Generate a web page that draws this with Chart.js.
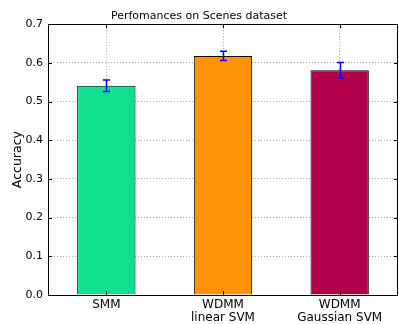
<!DOCTYPE html>
<html>
<head>
<meta charset="utf-8">
<script src="https://cdn.jsdelivr.net/npm/chart.js@4/dist/chart.umd.min.js"></script>
<style>
  html, body { margin: 0; padding: 0; background: #fff; }
  #c { display: block; }
</style>
</head>
<body>
<canvas id="c" width="399" height="324"></canvas>
<script>
// Classifier accuracy on the Scenes dataset
const categories = [["SMM"], ["WDMM", "linear SVM"], ["WDMM", "Gaussian SVM"]];
const accuracy = [0.541, 0.618, 0.581];
const stdErr = [0.015, 0.012, 0.020];
const barColors = ["#13e08f", "#ff9308", "#b0004a"];
const yTicks = [0.0, 0.1, 0.2, 0.3, 0.4, 0.5, 0.6, 0.7];

const FONT = "'DejaVu Sans', sans-serif";

// Frame, inward ticks and error bars in the matplotlib "classic" look
const decorations = {
  id: 'decorations',
  afterDatasetsDraw(chart) {
    const { ctx, chartArea: a, scales } = chart;
    const x = scales.x, y = scales.y;
    ctx.save();
    // error bars
    const meta = chart.getDatasetMeta(0);
    ctx.strokeStyle = '#0000ff';
    ctx.lineWidth = 1.5;
    meta.data.forEach((bar, i) => {
      const cx = Math.round(bar.x) + 0.5;
      const yHi = y.getPixelForValue(accuracy[i] + stdErr[i]);
      const yLo = y.getPixelForValue(accuracy[i] - stdErr[i]);
      ctx.beginPath();
      ctx.moveTo(cx, yHi); ctx.lineTo(cx, yLo);
      ctx.moveTo(cx - 3.5, yHi); ctx.lineTo(cx + 3.5, yHi);
      ctx.moveTo(cx - 3.5, yLo); ctx.lineTo(cx + 3.5, yLo);
      ctx.stroke();
    });
    // inward tick marks
    ctx.strokeStyle = '#000';
    ctx.lineWidth = 1;
    ctx.beginPath();
    yTicks.forEach(v => {
      const py = Math.round(y.getPixelForValue(v)) + 0.5;
      ctx.moveTo(a.left, py); ctx.lineTo(a.left + 4, py);
      ctx.moveTo(a.right, py); ctx.lineTo(a.right - 4, py);
    });
    categories.forEach((_, i) => {
      const px = Math.round(x.getPixelForValue(i)) + 0.5;
      ctx.moveTo(px, a.top); ctx.lineTo(px, a.top + 4);
      ctx.moveTo(px, a.bottom); ctx.lineTo(px, a.bottom - 4);
    });
    ctx.stroke();
    // frame
    ctx.strokeRect(Math.round(a.left) + 0.5, Math.round(a.top) + 0.5,
                   Math.round(a.right - a.left) - 1, Math.round(a.bottom - a.top));
    ctx.restore();
  }
};

new Chart(document.getElementById('c'), {
  type: 'bar',
  data: {
    labels: categories,
    datasets: [{
      data: accuracy,
      backgroundColor: barColors,
      borderColor: '#000',
      borderWidth: 1,
      barPercentage: 0.5,
      categoryPercentage: 1.0
    }]
  },
  options: {
    responsive: false,
    animation: false,
    devicePixelRatio: 1,
    layout: { padding: { left: 0, right: 1, top: 0, bottom: 0 } },
    plugins: {
      legend: { display: false },
      tooltip: { enabled: false },
      title: {
        display: true,
        text: 'Perfomances on Scenes dataset',
        color: '#000',
        font: { family: FONT, size: 11, weight: 'normal' },
        padding: { top: 10, bottom: 1 }
      }
    },
    scales: {
      x: {
        grid: { color: '#a8a8a8', drawTicks: false, offset: false },
        border: { display: false, dash: [1, 2] },
        ticks: { color: '#000', font: { family: FONT, size: 12, lineHeight: 1.1 }, padding: 3 },
        afterFit(s) { s.height = 29; }
      },
      y: {
        min: 0, max: 0.7,
        grid: { color: '#a8a8a8', drawTicks: false },
        border: { display: false, dash: [1, 2] },
        afterBuildTicks(s) { s.ticks = yTicks.map(v => ({ value: v })); },
        ticks: {
          color: '#000', font: { family: FONT, size: 11 }, padding: 5,
          callback: v => v.toFixed(1)
        },
        title: {
          display: true, text: 'Accuracy', color: '#000',
          font: { family: FONT, size: 12.5 }, padding: { top: 10, bottom: 0 }
        },
        afterFit(s) { s.width = 48; }
      }
    }
  },
  plugins: [decorations]
});
</script>
</body>
</html>
